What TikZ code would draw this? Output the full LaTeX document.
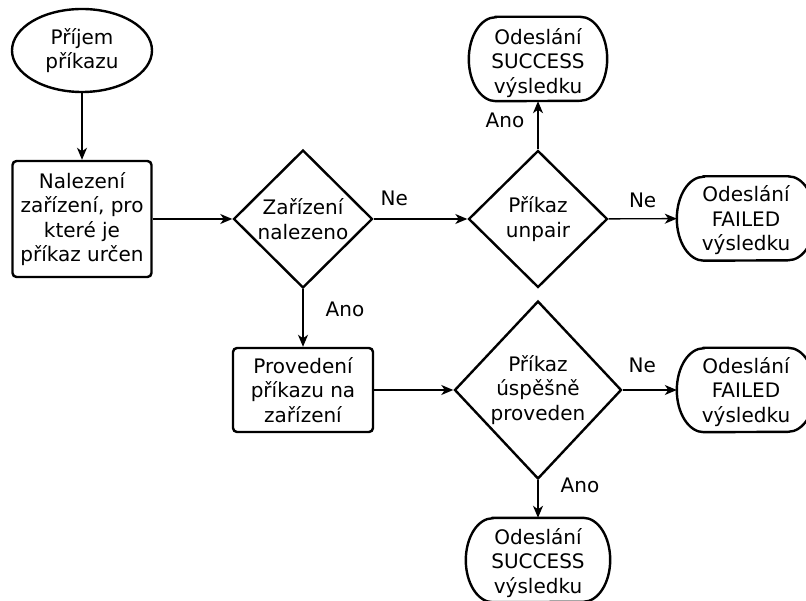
\documentclass[tikz,border=0pt]{standalone}
\usepackage{fontspec}
\setmainfont{DejaVu Sans}
\usetikzlibrary{shapes.geometric,arrows.meta}
\begin{document}
\begin{tikzpicture}[x=1pt,y=-1pt,
  every node/.style={font=\fontsize{20}{24.5}\selectfont, align=center, inner sep=0pt},
  shape line/.style={line width=2.4pt},
  startnode/.style={ellipse, draw, shape line, minimum width=140pt, minimum height=83pt},
  procbox/.style={rectangle, draw, shape line, rounded corners=4pt},
  decision/.style={diamond, draw, shape line},
  terminal/.style={rectangle, minimum height=84pt},
  flow/.style={line width=1.4pt, -{Stealth[length=12pt,width=10pt,inset=3.5pt]}},
  answer/.style={font=\fontsize{20}{24}\selectfont}
]
\useasboundingbox (0,0) rectangle (806,601);

% start and processing steps
\node[startnode] (start) at (82,50.5) {Příjem\\příkazu};
\node[procbox, minimum width=139pt, minimum height=116pt] (find) at (82,219)
  {Nalezení\\zařízení, pro\\které je\\příkaz určen};
\node[procbox, minimum width=140pt, minimum height=84pt] (exec) at (303,390)
  {Provedení\\příkazu na\\zařízení};

% decisions
\node[decision, minimum width=139pt, minimum height=138pt] (found) at (303,219)
  {Zařízení\\nalezeno};
\node[decision, minimum width=139pt, minimum height=137pt] (unpair) at (538,219)
  {Příkaz\\unpair};
\node[decision, minimum width=167pt, minimum height=178pt] (check) at (538,390)
  {Příkaz\\úspěšně\\proveden};

% result terminals (outlines drawn below)
\node[terminal, minimum width=138pt, label={[yshift=-4pt]center:Odeslání\\SUCCESS\\výsledku}] (okA) at (538,59) {};
\node[terminal, minimum width=138pt, label={[yshift=-2pt]center:Odeslání\\FAILED\\výsledku}] (failA) at (746,218.5) {};
\node[terminal, minimum width=138pt, label={[yshift=-2pt]center:Odeslání\\FAILED\\výsledku}] (failB) at (746,390) {};
\node[terminal, minimum width=144pt, label={[yshift=-3pt]center:Odeslání\\SUCCESS\\výsledku}] (okB) at (538,560) {};

\foreach \n in {okA,failA,failB,okB}
  \draw[shape line] ([xshift=27pt]\n.north west) -- ([xshift=-27pt]\n.north east)
    arc[start angle=90,end angle=-90,x radius=27pt,y radius=42pt]
    -- ([xshift=27pt]\n.south west)
    arc[start angle=270,end angle=90,x radius=27pt,y radius=42pt] -- cycle;

% connectors
\draw[flow] (start) -- (find);
\draw[flow] (find) -- (found);
\draw[flow] (found) -- node[answer, pos=0.22, yshift=21pt] {Ne} (unpair);
\draw[flow] (unpair) -- node[answer, pos=0.6, xshift=-33pt] {Ano} (okA);
\draw[flow] (unpair) -- node[answer, pos=0.5, yshift=18pt] {Ne} (failA);
\draw[flow] (found) -- node[answer, pos=0.35, xshift=42pt] {Ano} (exec);
\draw[flow] (exec) -- (check);
\draw[flow] (check) -- node[answer, pos=0.36, yshift=25pt] {Ne} (failB);
\draw[flow] (check) -- node[answer, pos=0.15, xshift=42pt] {Ano} (okB);
\end{tikzpicture}
\end{document}
